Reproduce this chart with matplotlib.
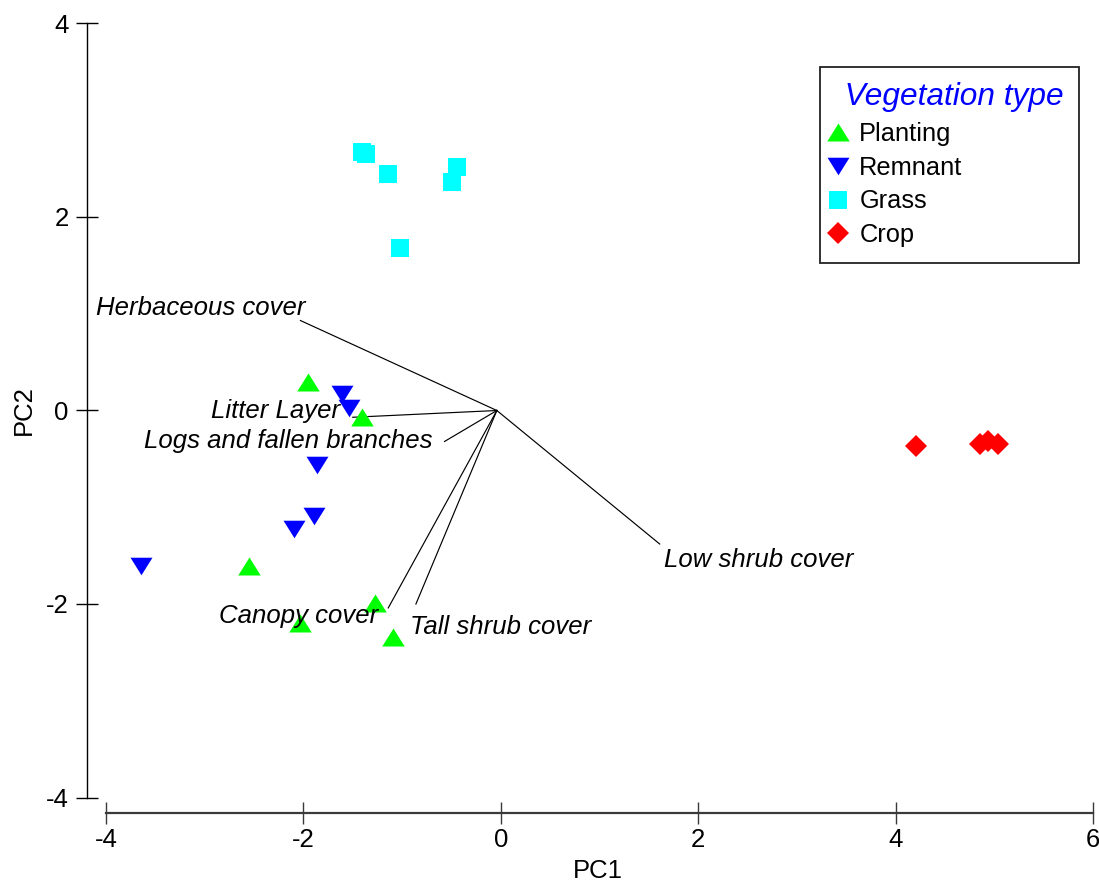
import matplotlib
matplotlib.use("Agg")
import matplotlib.pyplot as plt
from matplotlib.font_manager import FontProperties

plt.rcParams["font.family"] = ["Liberation Sans", "DejaVu Sans"]
plt.rcParams["axes.unicode_minus"] = False

# PCA sample scores by vegetation type
planting_x = [-1.95, -1.41, -2.55, -1.27, -2.03, -1.09]
planting_y = [0.29, -0.07, -1.61, -1.99, -2.20, -2.34]
remnant_x = [-1.61, -1.54, -1.86, -1.89, -2.10, -3.65]
remnant_y = [0.17, 0.03, -0.56, -1.09, -1.22, -1.61]
grass_x = [-1.41, -1.37, -1.14, -0.44, -0.49, -1.02]
grass_y = [2.67, 2.65, 2.44, 2.52, 2.36, 1.68]
crop_x = [4.21, 4.86, 4.94, 5.04]
crop_y = [-0.37, -0.35, -0.32, -0.35]

# loading vectors (drawn from the biplot origin)
origin = (-0.04, 0.0)
vec_names = ["Herbaceous cover", "Litter Layer", "Logs and fallen branches",
             "Canopy cover", "Tall shrub cover", "Low shrub cover"]
vec_x = [-2.03, -1.50, -0.57, -1.14, -0.86, 1.61]
vec_y = [0.93, -0.07, -0.32, -2.04, -2.00, -1.38]
# label anchor points and alignment
lab_x = [-1.98, -1.63, -0.69, -1.24, -0.92, 1.65]
lab_y = [1.06, -0.01, -0.32, -2.12, -2.24, -1.55]
lab_ha = ["right", "right", "right", "right", "left", "left"]

FS = 18.5

W, H = 1099, 884
fig = plt.figure(figsize=(W / 100, H / 100), dpi=100)
ax_l, ax_r, ax_t, ax_b = 86.7, 1095, 20, 812.7
ax = fig.add_axes([ax_l / W, (H - ax_b) / H, (ax_r - ax_l) / W, (ax_b - ax_t) / H])

up_tri = [(0, 0.8), (-1, -0.8), (1, -0.8)]
down_tri = [(0, -0.8), (-1, 0.8), (1, 0.8)]

kw = dict(linestyle="none", markeredgewidth=0, zorder=3)
h1, = ax.plot(planting_x, planting_y, marker=up_tri, ms=16.2, color="#00FF00", label="Planting", **kw)
h2, = ax.plot(remnant_x, remnant_y, marker=down_tri, ms=15.8, color="#0000FF", label="Remnant", **kw)
h3, = ax.plot(grass_x, grass_y, marker="s", ms=13, color="#00FFFF", label="Grass", **kw)
h4, = ax.plot(crop_x, crop_y, marker="D", ms=11, color="#FF0000", label="Crop", **kw)

for name, vx, vy, tx, ty, ha in zip(vec_names, vec_x, vec_y, lab_x, lab_y, lab_ha):
    ax.plot([origin[0], vx], [origin[1], vy], color="black", lw=0.85, zorder=2)
    ax.text(tx, ty, name, ha=ha, va="center", fontsize=FS, style="italic", zorder=4)

ax.set_xlim(-4 - (106 - ax_l) / 98.7, -4 + (ax_r - 106) / 98.7)
ax.set_ylim((410.5 - ax_b) / 96.75, (410.5 - ax_t) / 96.75)
ax.set_xticks([-4, -2, 0, 2, 4, 6])
ax.set_yticks([-4, -2, 0, 2, 4])

for s in ["top", "right"]:
    ax.spines[s].set_visible(False)
ax.spines["left"].set_bounds(-4, 4)
ax.spines["bottom"].set_bounds(-4, 6)
ax.spines["left"].set_linewidth(1.0)
ax.spines["bottom"].set_linewidth(1.6)
ax.spines["bottom"].set_color("#3a3a3a")

ax.tick_params(axis="both", direction="inout", length=15.8, width=1.0, labelsize=FS)
ax.tick_params(axis="x", pad=3, color="#3a3a3a")
ax.tick_params(axis="y", pad=5)

ax.set_xlabel("PC1", fontsize=FS, va="center")
ax.xaxis.set_label_coords((598 - ax_l) / (ax_r - ax_l), (ax_b - 871) / (ax_b - ax_t))
ax.set_ylabel("PC2", fontsize=FS, va="center")
ax.yaxis.set_label_coords((24 - ax_l) / (ax_r - ax_l), (ax_b - 410.5) / (ax_b - ax_t))

title_fp = FontProperties(family="Liberation Sans", style="italic", size=22.8)
leg = ax.legend(handles=[h1, h2, h3, h4], title=" Vegetation type", title_fontproperties=title_fp,
                loc="upper right", bbox_to_anchor=(1079.3 / W, (H - 66.7) / H),
                bbox_transform=fig.transFigure, borderaxespad=0, fontsize=18.3,
                numpoints=1, handlelength=0.2, handletextpad=0.72, borderpad=0.62,
                labelspacing=0.38, alignment="left", fancybox=False, framealpha=1,
                edgecolor="#222222")
leg.get_title().set_color("#0000FF")
leg.get_frame().set_linewidth(1.3)

fig.savefig("out.png", dpi=100)
